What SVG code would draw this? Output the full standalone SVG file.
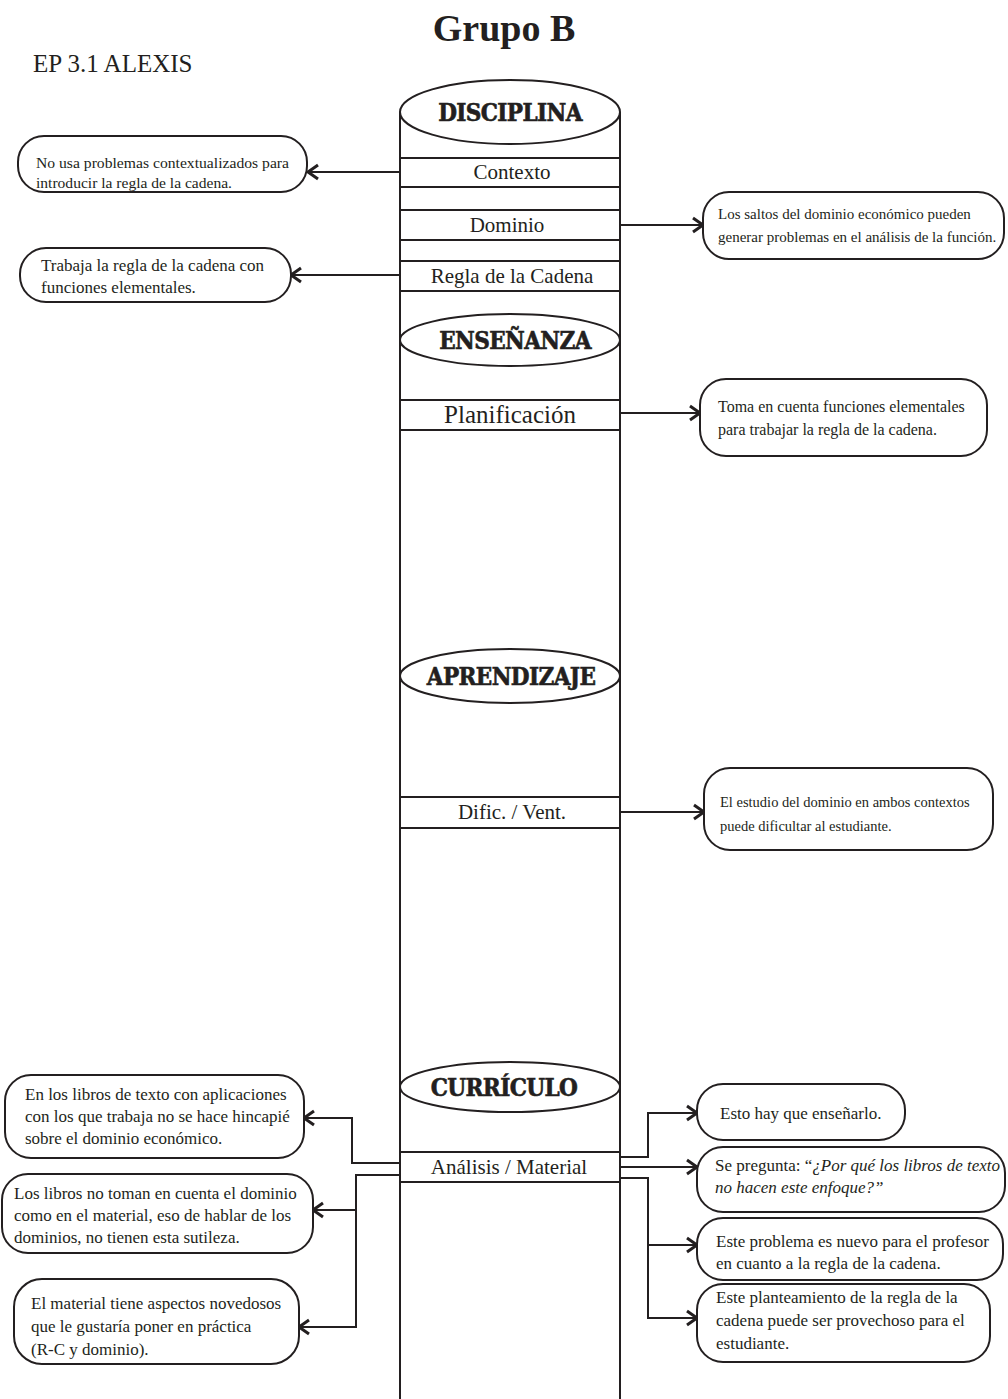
<svg xmlns="http://www.w3.org/2000/svg" width="1008" height="1399" viewBox="0 0 1008 1399">
  <style>
    .bg { fill: #ffffff; }
    .line { fill: none; stroke: #231f20; stroke-width: 2; }
    .shape { fill: #ffffff; stroke: #231f20; stroke-width: 2; }
    .note { fill: #ffffff; stroke: #231f20; stroke-width: 2; }
    text { fill: #231f20; font-family: "Liberation Serif", "Times New Roman", serif; }
    .title { font-size: 38px; font-weight: bold; text-anchor: middle; }
    .sub { font-size: 25px; }
    .head { font-family: "DejaVu Serif Condensed", "DejaVu Serif", serif; font-weight: bold; font-size: 24px; text-anchor: middle; letter-spacing: -0.6px; stroke: #231f20; stroke-width: 0.6; }
    .item { font-size: 21px; text-anchor: middle; }
    .big { font-size: 25px; }
    .t14 { font-size: 14.5px; }
    .t15 { font-size: 15px; }
    .t16 { font-size: 16px; }
    .t17 { font-size: 17px; }
  </style>
  <defs>
    <marker id="chev" markerUnits="userSpaceOnUse" markerWidth="16" markerHeight="18" refX="12" refY="9" orient="auto">
      <path d="M2,2 L12,9 L2,16" fill="none" stroke="#231f20" stroke-width="3"/>
    </marker>
  </defs>

  <rect class="bg" x="0" y="0" width="1008" height="1399"/>

  <text class="title" x="504" y="41">Grupo B</text>
  <text class="sub" x="33" y="72">EP 3.1 ALEXIS</text>

  <!-- central column -->
  <g id="column">
    <path class="line" d="M400,112 V1399 M620,112 V1399"/>
  </g>

  <g id="disciplina">
    <ellipse class="shape" cx="510" cy="112" rx="110" ry="32"/>
    <text class="head" x="510" y="121">DISCIPLINA</text>
  </g>
  <g id="contexto">
    <rect class="shape" x="400" y="158" width="220" height="29"/>
    <text class="item" x="512" y="179">Contexto</text>
  </g>
  <g id="dominio">
    <rect class="shape" x="400" y="210" width="220" height="30"/>
    <text class="item" x="507" y="232">Dominio</text>
  </g>
  <g id="regla">
    <rect class="shape" x="400" y="261" width="220" height="30"/>
    <text class="item" x="512" y="283">Regla de la Cadena</text>
  </g>

  <g id="ensenanza">
    <ellipse class="shape" cx="510" cy="340" rx="110" ry="26"/>
    <text class="head" x="515" y="349">ENSEÑANZA</text>
  </g>
  <g id="planificacion">
    <rect class="shape" x="400" y="400" width="220" height="30"/>
    <text class="item big" x="510" y="423">Planificación</text>
  </g>

  <g id="aprendizaje">
    <ellipse class="shape" cx="510" cy="676" rx="110" ry="27"/>
    <text class="head" x="511" y="685">APRENDIZAJE</text>
  </g>
  <g id="dificultades">
    <rect class="shape" x="400" y="797" width="220" height="31"/>
    <text class="item" x="512" y="819">Dific. / Vent.</text>
  </g>

  <g id="curriculo">
    <ellipse class="shape" cx="510" cy="1087" rx="110" ry="25"/>
    <text class="head" x="504" y="1096">CURRÍCULO</text>
  </g>
  <g id="analisis">
    <rect class="shape" x="400" y="1152" width="220" height="30"/>
    <text class="item" x="509" y="1174">Análisis / Material</text>
  </g>

  <!-- connectors -->
  <g id="connectors" class="line">
    <path d="M400,172 H308" marker-end="url(#chev)"/>
    <path d="M620,225 H703" marker-end="url(#chev)"/>
    <path d="M400,275 H291" marker-end="url(#chev)"/>
    <path d="M620,413 H700" marker-end="url(#chev)"/>
    <path d="M620,812 H704" marker-end="url(#chev)"/>
    <path d="M400,1163 H352 V1118 H304" marker-end="url(#chev)"/>
    <path d="M400,1175 H356 V1327 H299" marker-end="url(#chev)"/>
    <path d="M356,1210 H313" marker-end="url(#chev)"/>
    <path d="M620,1157 H648 V1113 H697" marker-end="url(#chev)"/>
    <path d="M620,1167 H697" marker-end="url(#chev)"/>
    <path d="M620,1178 H648 V1318 H697" marker-end="url(#chev)"/>
    <path d="M648,1245 H697" marker-end="url(#chev)"/>
  </g>

  <!-- notes, disciplina -->
  <g id="note-contexto">
    <rect class="note" x="18" y="136" width="289" height="56" rx="26"/>
    <text class="t15" x="36" y="168" textLength="253" lengthAdjust="spacingAndGlyphs">No usa problemas contextualizados para</text>
    <text class="t15" x="36" y="188" textLength="196" lengthAdjust="spacingAndGlyphs">introducir la regla de la cadena.</text>
  </g>
  <g id="note-dominio">
    <rect class="note" x="703" y="192" width="301" height="67" rx="26"/>
    <text class="t15" x="718" y="219">Los saltos del dominio económico pueden</text>
    <text class="t15" x="718" y="242">generar problemas en el análisis de la función.</text>
  </g>
  <g id="note-regla">
    <rect class="note" x="20" y="248" width="271" height="54" rx="26"/>
    <text class="t17" x="41" y="271">Trabaja la regla de la cadena con</text>
    <text class="t17" x="41" y="293">funciones elementales.</text>
  </g>

  <!-- notes, enseñanza / aprendizaje -->
  <g id="note-planificacion">
    <rect class="note" x="700" y="379" width="287" height="77" rx="26"/>
    <text class="t16" x="718" y="412">Toma en cuenta funciones elementales</text>
    <text class="t16" x="718" y="435">para trabajar la regla de la cadena.</text>
  </g>
  <g id="note-dificultades">
    <rect class="note" x="704" y="768" width="289" height="82" rx="26"/>
    <text class="t14" x="720" y="807">El estudio del dominio en ambos contextos</text>
    <text class="t14" x="720" y="831">puede dificultar al estudiante.</text>
  </g>

  <!-- notes, currículo (left) -->
  <g id="note-libros-aplicaciones">
    <rect class="note" x="5" y="1075" width="299" height="83" rx="26"/>
    <text class="t17" x="25" y="1100">En los libros de texto con aplicaciones</text>
    <text class="t17" x="25" y="1122">con los que trabaja no se hace hincapié</text>
    <text class="t17" x="25" y="1144">sobre el dominio económico.</text>
  </g>
  <g id="note-libros-dominio">
    <rect class="note" x="2" y="1174" width="311" height="79" rx="26"/>
    <text class="t17" x="14" y="1199">Los libros no toman en cuenta el dominio</text>
    <text class="t17" x="14" y="1221">como en el material, eso de hablar de los</text>
    <text class="t17" x="14" y="1243">dominios, no tienen esta sutileza.</text>
  </g>
  <g id="note-material">
    <rect class="note" x="14" y="1279" width="285" height="85" rx="28"/>
    <text class="t17" x="31" y="1309">El material tiene aspectos novedosos</text>
    <text class="t17" x="31" y="1332">que le gustaría poner en práctica</text>
    <text class="t17" x="31" y="1355">(R-C y dominio).</text>
  </g>

  <!-- notes, currículo (right) -->
  <g id="note-ensenarlo">
    <rect class="note" x="697" y="1084" width="208" height="56" rx="26"/>
    <text class="t17" x="720" y="1119">Esto hay que enseñarlo.</text>
  </g>
  <g id="note-pregunta">
    <rect class="note" x="697" y="1147" width="308" height="65" rx="26"/>
    <text class="t17" x="715" y="1171">Se pregunta: “<tspan font-style="italic">¿Por qué los libros de texto</tspan></text>
    <text class="t17" x="715" y="1193" font-style="italic">no hacen este enfoque?”</text>
  </g>
  <g id="note-nuevo">
    <rect class="note" x="697" y="1218" width="306" height="62" rx="26"/>
    <text class="t17" x="716" y="1247">Este problema es nuevo para el profesor</text>
    <text class="t17" x="716" y="1269">en cuanto a la regla de la cadena.</text>
  </g>
  <g id="note-provechoso">
    <rect class="note" x="697" y="1284" width="293" height="78" rx="26"/>
    <text class="t17" x="716" y="1303">Este planteamiento de la regla de la</text>
    <text class="t17" x="716" y="1326">cadena puede ser provechoso para el</text>
    <text class="t17" x="716" y="1349">estudiante.</text>
  </g>
</svg>
